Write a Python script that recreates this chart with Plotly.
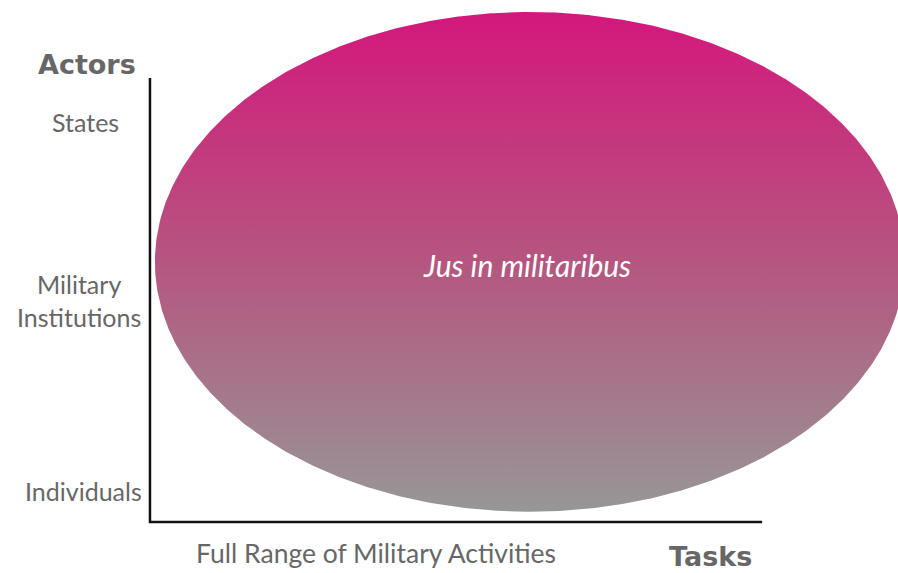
import numpy as np
import plotly.graph_objects as go

# Conceptual axes: x = Tasks (0..1), y = Actors (0..1)
actor_levels = ["States", "Military<br>Institutions", "Individuals"]
actor_pos = [0.901, 0.50, 0.07]
task_label = "Full Range of Military Activities"
task_pos = 0.369

# Ellipse "Jus in militaribus" in axis units
ell_cx, ell_cy = 0.6205, 0.586
ell_rx, ell_ry = 0.6125, 0.563
ell_label = "Jus in militaribus"

theta = np.linspace(0, 2 * np.pi, 721)
ex = ell_cx + ell_rx * np.cos(theta)
ey = ell_cy + ell_ry * np.sin(theta)

fig = go.Figure()
fig.add_trace(go.Scatter(
    x=ex, y=ey, mode="lines", line=dict(width=0), fill="toself",
    fillgradient=dict(type="vertical",
                      colorscale=[[0, "#979797"], [0.5, "#b5567f"], [1, "#d4177c"]]),
    hoverinfo="skip", showlegend=False))
fig.add_trace(go.Scatter(
    x=[0, 0, 1], y=[1, 0, 0], mode="lines",
    line=dict(color="#111111", width=2.5), hoverinfo="skip", showlegend=False))

gray = "#676767"
reg = dict(family="Lato", size=25, color=gray)
bold = dict(family="DejaVu Sans", size=27, color=gray, weight="bold")

ann = []
ann.append(dict(x=-0.103, y=1.03, text="<b>Actors</b>", font=bold))
label_x = [-0.105, -0.116, -0.109]
for lab, yy, xx in zip(actor_levels, actor_pos, label_x):
    ann.append(dict(x=xx, y=yy, text=lab, font=reg))
ann.append(dict(x=task_pos, y=-0.07, text=task_label,
                font=dict(family="Lato", size=26.5, color=gray)))
ann.append(dict(x=0.915, y=-0.077, text="<b>Tasks</b>", font=bold))
ann.append(dict(x=ell_cx - 0.004, y=0.578, text="<i>" + ell_label + "</i>",
                font=dict(family="Lato", size=30, color="white")))
for a in ann:
    a.update(xref="x", yref="y", showarrow=False, xanchor="center", yanchor="middle")

fig.update_layout(
    width=898, height=573, margin=dict(l=0, r=0, t=0, b=0),
    paper_bgcolor="white", plot_bgcolor="white",
    xaxis=dict(range=[-0.245, 1.222], visible=False, fixedrange=True),
    yaxis=dict(range=[-0.115, 1.176], visible=False, fixedrange=True),
    annotations=ann, showlegend=False, hovermode=False)

fig.write_html("out.html", config={"displayModeBar": False, "staticPlot": True},
               post_script="document.body.style.margin='0';document.body.style.overflow='hidden';")
